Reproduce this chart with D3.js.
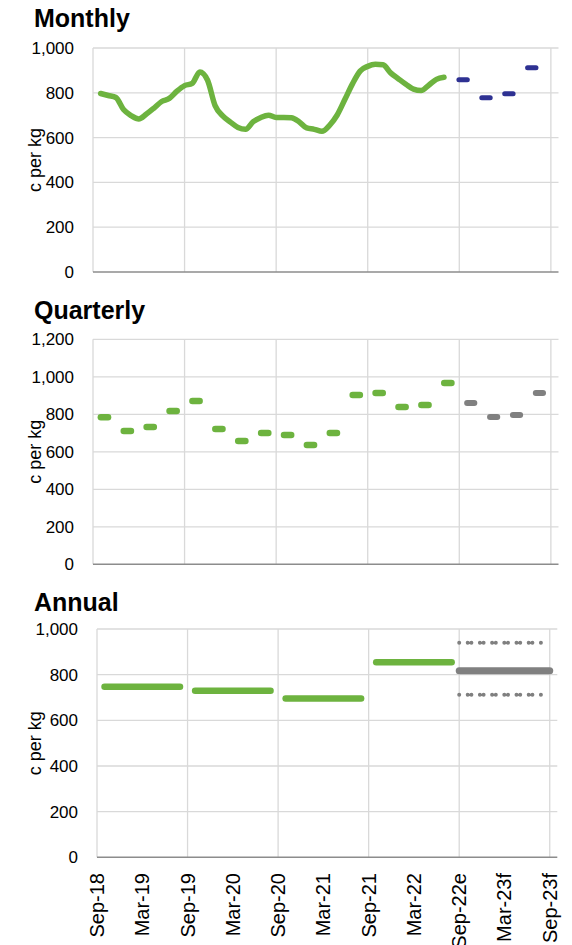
<!DOCTYPE html>
<html>
<head>
<meta charset="utf-8">
<script src="https://cdn.jsdelivr.net/npm/d3@7"></script>
<style>
  html, body { margin: 0; padding: 0; background: #fff; }
  svg { display: block; }
  text { font-family: "Liberation Sans", Arial, sans-serif; fill: #000; }
</style>
</head>
<body>
<svg id="chart" width="572" height="945"></svg>
<script>
// ---------------- DATA ----------------
const xTickLabels = ["Sep-18","Mar-19","Sep-19","Mar-20","Sep-20","Mar-21","Sep-21","Mar-22","Sep-22e","Mar-23f","Sep-23f"];
const yLabel = "c per kg";

// Monthly actuals, first month Oct-18
const monthlyStart = "Oct-18";
const monthlyValues = [797,788,779,725,698,683,705,732,761,775,807,832,842,893,857,743,697,669,645,637,
                       671,690,700,690,690,689,671,643,637,628,655,701,770,840,897,918,927,925,889,863,
                       838,816,810,834,860,869];
// Monthly forecasts
const monthlyFcMonths = ["Oct-22","Jan-23","Apr-23","Jul-23"];
const monthlyFcValues = [858,778,796,912];

// Quarterly (quarter-ending month)
const quarterEnds = ["Dec-18","Mar-19","Jun-19","Sep-19","Dec-19","Mar-20","Jun-20","Sep-20",
                     "Dec-20","Mar-21","Jun-21","Sep-21","Dec-21","Mar-22","Jun-22","Sep-22"];
const quarterValues = [784,711,732,818,871,722,658,700,690,636,700,903,914,839,850,967];
const quarterFcEnds = ["Dec-22","Mar-23","Jun-23","Sep-23"];
const quarterFcValues = [860,786,796,914];

// Annual
const annualFrom = ["Oct-18","Oct-19","Oct-20","Oct-21"];
const annualTo   = ["Aug-19","Aug-20","Aug-21","Aug-22"];
const annualValues = [747,730,696,854];
const annualFcFrom = "Sep-22", annualFcTo = "Sep-23", annualFcBandTo = "Aug-23";
const annualFcCentral = 817, annualFcHigh = 940, annualFcLow = 712;

// ---------------- HELPERS ----------------
const MONTHS = ["Jan","Feb","Mar","Apr","May","Jun","Jul","Aug","Sep","Oct","Nov","Dec"];
// months since Sep-18 (Sep-18 = 0)
function mi(s) {
  const [mon, yy] = s.split("-");
  return (2000 + parseInt(yy) - 2018) * 12 + MONTHS.indexOf(mon) - 8;
}

const GREEN = "#6DB33F", BLUE = "#2E3192", GREY = "#808080", GRID = "#D9D9D9", AXIS = "#8C8C8C";
const svg = d3.select("#chart");

function panel(opts) {
  const x = d3.scaleLinear().domain([0, 61]).range([opts.x0, opts.x1]);
  const y = d3.scaleLinear().domain([0, opts.ymax]).range([opts.yb, opts.yt]);
  const g = svg.append("g");

  // horizontal grid
  const yt = d3.range(0, opts.ymax + 1, 200);
  g.selectAll(".hg").data(yt.filter(v => v > 0)).join("line")
    .attr("x1", opts.x0).attr("x2", opts.x1).attr("y1", d => y(d)).attr("y2", d => y(d))
    .attr("stroke", GRID).attr("stroke-width", 1.3);
  // vertical grid
  g.selectAll(".vg").data(d3.range(0, 61, 12)).join("line")
    .attr("x1", d => x(d)).attr("x2", d => x(d)).attr("y1", opts.yt).attr("y2", opts.yb)
    .attr("stroke", GRID).attr("stroke-width", 1.3);
  // bottom axis line
  g.append("line").attr("x1", opts.x0).attr("x2", opts.x1).attr("y1", opts.yb).attr("y2", opts.yb)
    .attr("stroke", AXIS).attr("stroke-width", 1.5);

  // y tick labels
  const fmt = d3.format(",");
  g.selectAll(".yl").data(yt).join("text")
    .attr("x", opts.x0 - 19).attr("y", d => y(d)).attr("dy", "0.35em")
    .attr("text-anchor", "end").style("font-size", "17px").text(d => fmt(d));

  // y axis title
  g.append("text").attr("transform", `translate(41,${(opts.yt + opts.yb) / 2}) rotate(-90)`)
    .attr("text-anchor", "middle").style("font-size", "18px").text(yLabel);

  // title
  g.append("text").attr("x", 34).attr("y", opts.titleY)
    .style("font-size", "25px").style("font-weight", "bold").text(opts.title);

  return { g, x, y };
}

// ---------------- MONTHLY ----------------
{
  const { g, x, y } = panel({ x0: 93, x1: 558.5, yt: 48, yb: 272, ymax: 1000, title: "Monthly", titleY: 27 });
  const m0 = mi(monthlyStart);
  const pts = monthlyValues.map((v, i) => [x(m0 + i), y(v)]);
  g.append("path").attr("d", d3.line().curve(d3.curveMonotoneX)(pts))
    .attr("fill", "none").attr("stroke", GREEN).attr("stroke-width", 5.5)
    .attr("stroke-linejoin", "round").attr("stroke-linecap", "round");
  g.selectAll(".mf").data(monthlyFcMonths.map((m, i) => ({ m: mi(m) - 0.5, v: monthlyFcValues[i] }))).join("line")
    .attr("x1", d => x(d.m) - 4.2).attr("x2", d => x(d.m) + 4.2)
    .attr("y1", d => y(d.v)).attr("y2", d => y(d.v))
    .attr("stroke", BLUE).attr("stroke-width", 5).attr("stroke-linecap", "round");
}

// ---------------- QUARTERLY ----------------
{
  const { g, x, y } = panel({ x0: 93, x1: 558.5, yt: 339.3, yb: 564.3, ymax: 1200, title: "Quarterly", titleY: 318.5 });
  const q = quarterEnds.map((m, i) => ({ m: mi(m) - 1.5, v: quarterValues[i], c: GREEN, w: 6.5 }))
    .concat(quarterFcEnds.map((m, i) => ({ m: mi(m) - 1.5, v: quarterFcValues[i], c: GREY, w: 6 })));
  g.selectAll(".qd").data(q).join("line")
    .attr("x1", d => x(d.m) - 3.6).attr("x2", d => x(d.m) + 3.6)
    .attr("y1", d => y(d.v)).attr("y2", d => y(d.v))
    .attr("stroke", d => d.c).attr("stroke-width", d => d.w).attr("stroke-linecap", "round");
}

// ---------------- ANNUAL ----------------
{
  const { g, x, y } = panel({ x0: 97, x1: 557.3, yt: 629, yb: 857.3, ymax: 1000, title: "Annual", titleY: 611 });
  g.selectAll(".ab").data(annualValues.map((v, i) => ({ a: mi(annualFrom[i]), b: mi(annualTo[i]), v }))).join("line")
    .attr("x1", d => x(d.a)).attr("x2", d => x(d.b)).attr("y1", d => y(d.v)).attr("y2", d => y(d.v))
    .attr("stroke", GREEN).attr("stroke-width", 6.5).attr("stroke-linecap", "round");
  // forecast band (dotted)
  [annualFcHigh, annualFcLow].forEach(v => {
    g.append("line").attr("x1", x(mi(annualFcFrom))).attr("x2", x(mi(annualFcBandTo)))
      .attr("y1", y(v)).attr("y2", y(v))
      .attr("stroke", GREY).attr("stroke-width", 4).attr("stroke-linecap", "round")
      .attr("stroke-dasharray", "0 8.5 0 3.7");
  });
  g.append("line").attr("x1", x(mi(annualFcFrom))).attr("x2", x(mi(annualFcTo)))
    .attr("y1", y(annualFcCentral)).attr("y2", y(annualFcCentral))
    .attr("stroke", GREY).attr("stroke-width", 7).attr("stroke-linecap", "round");

  // x tick labels
  g.selectAll(".xl").data(xTickLabels).join("text")
    .attr("transform", (d, i) => `translate(${x(i * 6)},873) rotate(-90)`)
    .attr("dy", "0.35em").attr("text-anchor", "end").style("font-size", "20px").text(d => d);
}
</script>
</body>
</html>
